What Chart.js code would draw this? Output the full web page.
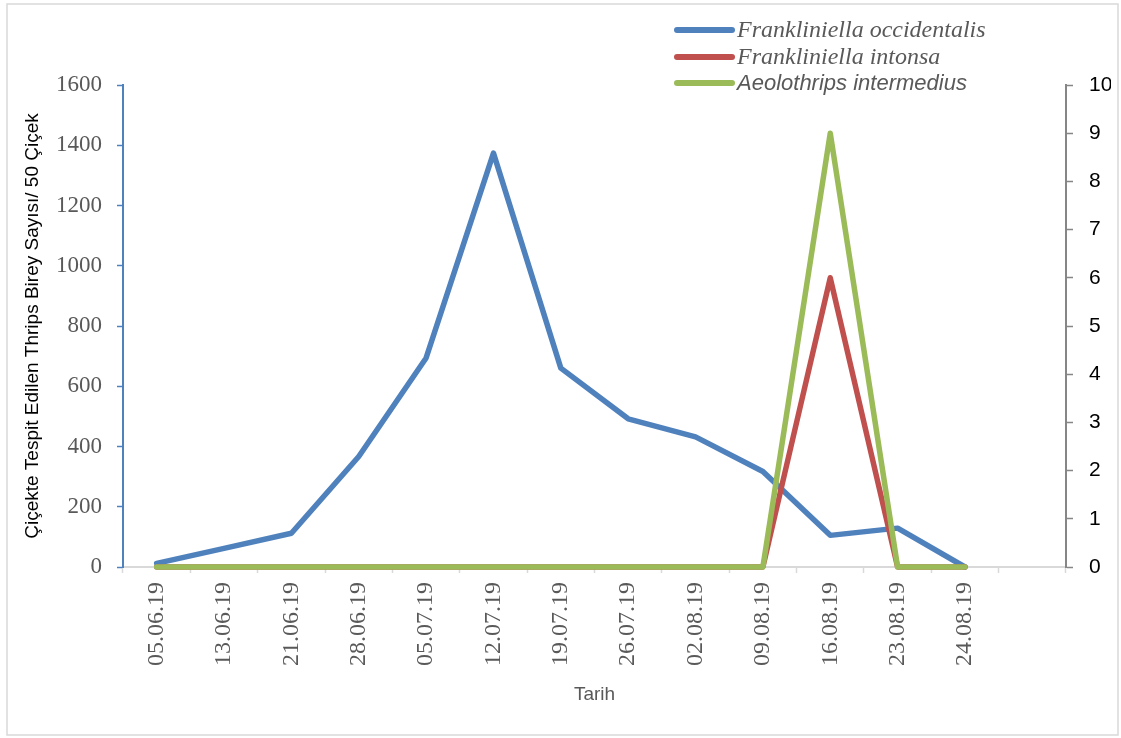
<!DOCTYPE html>
<html lang="tr">
<head>
<meta charset="utf-8">
<title>Thrips yoğunluğu</title>
<script src="https://cdn.jsdelivr.net/npm/chart.js@4.4.1/dist/chart.umd.min.js"></script>
<style>
  html, body { margin: 0; padding: 0; background: #ffffff; }
  #wrap { position: relative; width: 1121px; height: 738px; }
  canvas { display: block; }
</style>
</head>
<body>
<div id="wrap"><canvas id="chart" width="1121" height="738"></canvas></div>
<script>
// Sampling dates (one empty slot kept at the end of the axis)
const dates = ['05.06.19', '13.06.19', '21.06.19', '28.06.19', '05.07.19', '12.07.19',
               '19.07.19', '26.07.19', '02.08.19', '09.08.19', '16.08.19', '23.08.19', '24.08.19'];

// Individuals per 50 flowers
const occidentalis = [12, 62, 112, 367, 694, 1374, 660, 492, 432, 317, 105, 129, 0];
const intonsa      = [0, 0, 0, 0, 0, 0, 0, 0, 0, 0, 6, 0, 0];
const intermedius  = [0, 0, 0, 0, 0, 0, 0, 0, 0, 0, 9, 0, 0];

// Axis ticks
const leftTicks  = [0, 200, 400, 600, 800, 1000, 1200, 1400, 1600];
const rightTicks = [0, 1, 2, 3, 4, 5, 6, 7, 8, 9, 10];

const seriesNames = ['Frankliniella occidentalis', 'Frankliniella intonsa', 'Aeolothrips intermedius'];

const BLUE = '#4F81BD', RED = '#C0504D', GREEN = '#9BBB59';
const GREY_TEXT = '#595959';

// Plot-area edges used to size the axis boxes
const AREA = { left: 123, right: 1066, top: 85, bottom: 567 };
const PAD = { left: 10, right: 10, bottom: 10 };

// Outer frame around the whole figure
const framePlugin = {
  id: 'frame',
  beforeDraw(chart) {
    const ctx = chart.ctx;
    ctx.save();
    ctx.fillStyle = '#ffffff';
    ctx.fillRect(0, 0, chart.width, chart.height);
    ctx.strokeStyle = '#D9D9D9';
    ctx.lineWidth = 1.5;
    ctx.strokeRect(7, 4, 1111, 731);
    ctx.restore();
  }
};

// Vertical legend in the upper right, each entry in its own font
const legendPlugin = {
  id: 'sideLegend',
  afterDraw(chart) {
    const ctx = chart.ctx;
    const x0 = 677, x1 = 732, textX = 737;
    const rows = [30, 57, 83];
    ctx.save();
    chart.data.datasets.forEach((ds, i) => {
      const y = rows[i];
      ctx.beginPath();
      ctx.lineCap = 'round';
      ctx.lineWidth = 6;
      ctx.strokeStyle = ds.borderColor;
      ctx.moveTo(x0, y);
      ctx.lineTo(x1, y);
      ctx.stroke();
      ctx.font = ds.legendFont;
      ctx.fillStyle = GREY_TEXT;
      ctx.textBaseline = 'middle';
      ctx.textAlign = 'left';
      ctx.fillText(ds.label, textX, y + 1);
    });
    ctx.restore();
  }
};

const lineStyle = {
  borderWidth: 5.5,
  pointRadius: 0,
  pointHoverRadius: 0,
  tension: 0,
  fill: false,
  clip: false,
  borderCapStyle: 'round',
  borderJoinStyle: 'round'
};

new Chart(document.getElementById('chart'), {
  type: 'line',
  data: {
    labels: [...dates, ''],
    datasets: [
      { ...lineStyle, label: seriesNames[0], data: occidentalis, yAxisID: 'y',
        borderColor: BLUE, order: 3, legendFont: 'italic 24px "Liberation Serif"' },
      { ...lineStyle, label: seriesNames[1], data: intonsa, yAxisID: 'y1',
        borderColor: RED, order: 2, legendFont: 'italic 24px "Liberation Serif"' },
      { ...lineStyle, label: seriesNames[2], data: intermedius, yAxisID: 'y1',
        borderColor: GREEN, order: 1, legendFont: 'italic 22px "Liberation Sans"' }
    ]
  },
  options: {
    responsive: false,
    animation: false,
    events: [],
    layout: { padding: { top: AREA.top, left: PAD.left, right: PAD.right, bottom: PAD.bottom } },
    plugins: { legend: { display: false }, tooltip: { enabled: false } },
    scales: {
      x: {
        type: 'category',
        offset: true,
        afterFit(s) { s.height = 738 - PAD.bottom - AREA.bottom; },
        grid: { offset: true, drawOnChartArea: false, drawTicks: true, tickLength: 6,
                tickColor: '#D9D9D9', tickWidth: 1.5 },
        border: { color: '#D9D9D9', width: 2 },
        ticks: { autoSkip: false, minRotation: 90, maxRotation: 90, padding: 9,
                 color: GREY_TEXT, font: { family: '"Liberation Serif"', size: 24 } },
        title: { display: true, text: 'Tarih', color: GREY_TEXT,
                 font: { family: '"Liberation Sans"', size: 19 }, padding: { top: 0, bottom: 22 } }
      },
      y: {
        position: 'left',
        min: leftTicks[0],
        max: leftTicks[leftTicks.length - 1],
        afterFit(s) { s.width = AREA.left - PAD.left; },
        afterBuildTicks(s) { s.ticks = leftTicks.map(v => ({ value: v })); },
        grid: { drawOnChartArea: false, drawTicks: true, tickLength: 6, tickColor: BLUE, tickWidth: 1.5 },
        border: { color: BLUE, width: 2 },
        ticks: { padding: 15, color: GREY_TEXT, font: { family: '"Liberation Serif"', size: 23 },
                 callback: v => String(v) },
        title: { display: true, text: 'Çiçekte Tespit Edilen Thrips Birey Sayısı/ 50 Çiçek',
                 color: '#000000', font: { family: '"Liberation Sans"', size: 19 },
                 padding: { top: 11, bottom: 0 } }
      },
      y1: {
        position: 'right',
        min: rightTicks[0],
        max: rightTicks[rightTicks.length - 1],
        afterFit(s) { s.width = 1121 - PAD.right - AREA.right; },
        afterBuildTicks(s) { s.ticks = rightTicks.map(v => ({ value: v })); },
        grid: { drawOnChartArea: false, drawTicks: true, tickLength: 7, tickColor: '#868686', tickWidth: 1.5 },
        border: { color: '#868686', width: 2 },
        ticks: { padding: 16, color: '#000000', font: { family: '"Liberation Sans"', size: 21 } }
      }
    }
  },
  plugins: [framePlugin, legendPlugin]
});
</script>
</body>
</html>
